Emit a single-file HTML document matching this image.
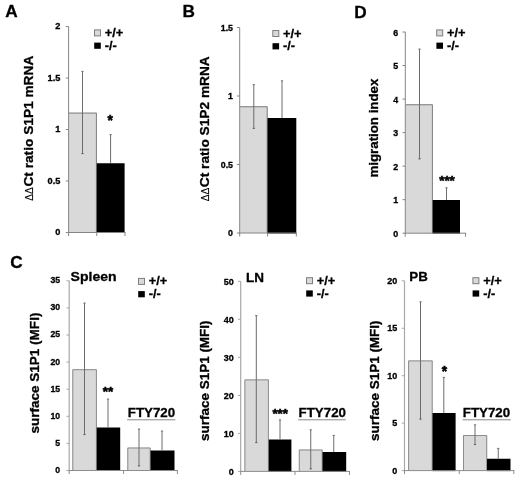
<!DOCTYPE html>
<html lang="en">
<head>
<meta charset="utf-8">
<title>Figure</title>
<style>
html,body{margin:0;padding:0;background:#fff;}
body{width:520px;height:480px;overflow:hidden;}
svg{display:block;}
svg text{font-family:"Liberation Sans", Arial, sans-serif;font-weight:bold;fill:#000;stroke:#000;stroke-width:0.3px;}
svg text.star{stroke-width:0.55px;}
</style>
</head>
<body>
<svg width="520" height="480" viewBox="0 0 520 480">
<rect x="0" y="0" width="520" height="480" fill="#ffffff"/>
<g id="panel-A">
<rect x="69" y="112.6" width="27.9" height="119.9" fill="#d9d9d9"/>
<path d="M69 113.1 H96.4 V232.5" fill="none" stroke="#7e7e7e" stroke-width="1"/>
<rect x="96.75" y="163.25" width="27.85" height="69.75" fill="#000"/>
<line x1="68.6" y1="26.5" x2="68.6" y2="233" stroke="#858585" stroke-width="1"/>
<line x1="65.8" y1="232.5" x2="68.6" y2="232.5" stroke="#858585" stroke-width="1"/>
<text x="60.3" y="235.3" font-size="9.2" text-anchor="end">0</text>
<line x1="65.8" y1="181" x2="68.6" y2="181" stroke="#858585" stroke-width="1"/>
<text x="60.3" y="183.8" font-size="9.2" text-anchor="end">0.5</text>
<line x1="65.8" y1="129.5" x2="68.6" y2="129.5" stroke="#858585" stroke-width="1"/>
<text x="60.3" y="132.3" font-size="9.2" text-anchor="end">1</text>
<line x1="65.8" y1="78" x2="68.6" y2="78" stroke="#858585" stroke-width="1"/>
<text x="60.3" y="80.8" font-size="9.2" text-anchor="end">1.5</text>
<line x1="65.8" y1="26.5" x2="68.6" y2="26.5" stroke="#858585" stroke-width="1"/>
<text x="60.3" y="29.3" font-size="9.2" text-anchor="end">2</text>
<line x1="68.1" y1="232.5" x2="125.5" y2="232.5" stroke="#858585" stroke-width="1"/>
<line x1="68.6" y1="232.5" x2="68.6" y2="236" stroke="#858585" stroke-width="1"/>
<line x1="96.75" y1="232.5" x2="96.75" y2="236" stroke="#858585" stroke-width="1"/>
<line x1="125" y1="232.5" x2="125" y2="236" stroke="#858585" stroke-width="1"/>
<line x1="82.5" y1="71" x2="82.5" y2="154" stroke="#6c6c6c" stroke-width="1"/>
<line x1="81.4" y1="71.4" x2="83.6" y2="71.4" stroke="#707070" stroke-width="1"/>
<line x1="81.4" y1="153.6" x2="83.6" y2="153.6" stroke="#606060" stroke-width="1"/>
<line x1="110.6" y1="134.25" x2="110.6" y2="163.25" stroke="#6c6c6c" stroke-width="1"/>
<line x1="109.5" y1="134.65" x2="111.7" y2="134.65" stroke="#707070" stroke-width="1"/>
<rect x="94.5" y="29.9" width="6" height="6" fill="#d9d9d9" stroke="#7e7e7e"/>
<text x="104.8" y="36.9" font-size="12.6" text-anchor="start" textLength="18.5" lengthAdjust="spacingAndGlyphs">+/+</text>
<rect x="94.2" y="42.6" width="6.6" height="6.2" fill="#000"/>
<text x="104.8" y="49.7" font-size="12.6" text-anchor="start" textLength="12" lengthAdjust="spacingAndGlyphs">-/-</text>
<text transform="translate(33.3,200.7) rotate(-90)" font-size="11" style="font-weight:normal;stroke-width:0.15px" textLength="13.6" lengthAdjust="spacingAndGlyphs">ΔΔ</text>
<text transform="translate(33.3,186.6) rotate(-90)" font-size="13.3" textLength="130.9" lengthAdjust="spacingAndGlyphs">Ct ratio S1P1 mRNA</text>
<text x="110.3" y="124.6" font-size="13.8" text-anchor="middle" class="star">*</text>
</g>
<g id="panel-B">
<rect x="240" y="106.25" width="27.7" height="126.75" fill="#d9d9d9"/>
<path d="M240 106.75 H267.2 V233" fill="none" stroke="#7e7e7e" stroke-width="1"/>
<rect x="267.5" y="118" width="28.8" height="115.5" fill="#000"/>
<line x1="239.7" y1="27.5" x2="239.7" y2="233.5" stroke="#858585" stroke-width="1"/>
<line x1="236.9" y1="233" x2="239.7" y2="233" stroke="#858585" stroke-width="1"/>
<text x="233" y="236.1" font-size="8.8" text-anchor="end">0</text>
<line x1="236.9" y1="164.5" x2="239.7" y2="164.5" stroke="#858585" stroke-width="1"/>
<text x="233" y="167.6" font-size="8.8" text-anchor="end">0.5</text>
<line x1="236.9" y1="96" x2="239.7" y2="96" stroke="#858585" stroke-width="1"/>
<text x="233" y="99.1" font-size="8.8" text-anchor="end">1</text>
<line x1="236.9" y1="27.5" x2="239.7" y2="27.5" stroke="#858585" stroke-width="1"/>
<text x="233" y="30.6" font-size="8.8" text-anchor="end">1.5</text>
<line x1="239.2" y1="233" x2="296.8" y2="233" stroke="#858585" stroke-width="1"/>
<line x1="239.7" y1="233" x2="239.7" y2="236.5" stroke="#858585" stroke-width="1"/>
<line x1="267.6" y1="233" x2="267.6" y2="236.5" stroke="#858585" stroke-width="1"/>
<line x1="296.3" y1="233" x2="296.3" y2="236.5" stroke="#858585" stroke-width="1"/>
<line x1="253.8" y1="84.25" x2="253.8" y2="128.75" stroke="#6c6c6c" stroke-width="1"/>
<line x1="252.7" y1="84.65" x2="254.9" y2="84.65" stroke="#707070" stroke-width="1"/>
<line x1="252.7" y1="128.35" x2="254.9" y2="128.35" stroke="#606060" stroke-width="1"/>
<line x1="282" y1="80.5" x2="282" y2="118" stroke="#6c6c6c" stroke-width="1"/>
<line x1="280.9" y1="80.9" x2="283.1" y2="80.9" stroke="#707070" stroke-width="1"/>
<rect x="272.8" y="30.5" width="6" height="6" fill="#d9d9d9" stroke="#7e7e7e"/>
<text x="283.1" y="37.5" font-size="12.6" text-anchor="start" textLength="18.5" lengthAdjust="spacingAndGlyphs">+/+</text>
<rect x="272.5" y="43.2" width="6.6" height="6.2" fill="#000"/>
<text x="283.1" y="50.3" font-size="12.6" text-anchor="start" textLength="12" lengthAdjust="spacingAndGlyphs">-/-</text>
<text transform="translate(208.8,201.25) rotate(-90)" font-size="11" style="font-weight:normal;stroke-width:0.15px" textLength="13.6" lengthAdjust="spacingAndGlyphs">ΔΔ</text>
<text transform="translate(208.8,187.15) rotate(-90)" font-size="13.3" textLength="130.9" lengthAdjust="spacingAndGlyphs">Ct ratio S1P2 mRNA</text>
</g>
<g id="panel-D">
<rect x="405.6" y="104.25" width="27.3" height="128.95" fill="#d9d9d9"/>
<path d="M405.6 104.75 H432.4 V233.2" fill="none" stroke="#7e7e7e" stroke-width="1"/>
<rect x="432.7" y="200" width="27.3" height="33.7" fill="#000"/>
<line x1="405.3" y1="32" x2="405.3" y2="233.7" stroke="#858585" stroke-width="1"/>
<line x1="402.5" y1="233.2" x2="405.3" y2="233.2" stroke="#858585" stroke-width="1"/>
<text x="398.1" y="236.7" font-size="8.9" text-anchor="end">0</text>
<line x1="402.5" y1="199.67" x2="405.3" y2="199.67" stroke="#858585" stroke-width="1"/>
<text x="398.1" y="203.17" font-size="8.9" text-anchor="end">1</text>
<line x1="402.5" y1="166.13" x2="405.3" y2="166.13" stroke="#858585" stroke-width="1"/>
<text x="398.1" y="169.63" font-size="8.9" text-anchor="end">2</text>
<line x1="402.5" y1="132.6" x2="405.3" y2="132.6" stroke="#858585" stroke-width="1"/>
<text x="398.1" y="136.1" font-size="8.9" text-anchor="end">3</text>
<line x1="402.5" y1="99.07" x2="405.3" y2="99.07" stroke="#858585" stroke-width="1"/>
<text x="398.1" y="102.57" font-size="8.9" text-anchor="end">4</text>
<line x1="402.5" y1="65.53" x2="405.3" y2="65.53" stroke="#858585" stroke-width="1"/>
<text x="398.1" y="69.03" font-size="8.9" text-anchor="end">5</text>
<line x1="402.5" y1="32" x2="405.3" y2="32" stroke="#858585" stroke-width="1"/>
<text x="398.1" y="35.5" font-size="8.9" text-anchor="end">6</text>
<line x1="404.8" y1="233.2" x2="466.1" y2="233.2" stroke="#858585" stroke-width="1"/>
<line x1="405.2" y1="233.2" x2="405.2" y2="236.7" stroke="#858585" stroke-width="1"/>
<line x1="465.6" y1="233.2" x2="465.6" y2="236.7" stroke="#858585" stroke-width="1"/>
<line x1="419.5" y1="48.75" x2="419.5" y2="159.25" stroke="#6c6c6c" stroke-width="1"/>
<line x1="418.4" y1="49.15" x2="420.6" y2="49.15" stroke="#707070" stroke-width="1"/>
<line x1="418.4" y1="158.85" x2="420.6" y2="158.85" stroke="#606060" stroke-width="1"/>
<line x1="446.5" y1="187.5" x2="446.5" y2="200" stroke="#6c6c6c" stroke-width="1"/>
<line x1="445.4" y1="187.9" x2="447.6" y2="187.9" stroke="#707070" stroke-width="1"/>
<rect x="436.7" y="29.9" width="6" height="6" fill="#d9d9d9" stroke="#7e7e7e"/>
<text x="447" y="36.9" font-size="12.6" text-anchor="start" textLength="18.5" lengthAdjust="spacingAndGlyphs">+/+</text>
<rect x="436.4" y="42.6" width="6.6" height="6.2" fill="#000"/>
<text x="447" y="49.7" font-size="12.6" text-anchor="start" textLength="12" lengthAdjust="spacingAndGlyphs">-/-</text>
<text transform="translate(378.1,128.1) rotate(-90)" font-size="13.3" text-anchor="middle" textLength="98.8" lengthAdjust="spacingAndGlyphs">migration index</text>
<text x="447" y="184.6" font-size="13.4" text-anchor="middle" class="star">***</text>
</g>
<g id="panel-C1">
<rect x="72.3" y="369.2" width="24.6" height="101.3" fill="#d9d9d9"/>
<path d="M72.8 470.5 V369.7 H96.4 V470.5" fill="none" stroke="#8c8c8c" stroke-width="1"/>
<rect x="96.75" y="427.5" width="23.45" height="43.5" fill="#000"/>
<rect x="127.3" y="447.5" width="23.4" height="23" fill="#d9d9d9"/>
<path d="M127.8 470.5 V448 H150.2 V470.5" fill="none" stroke="#8c8c8c" stroke-width="1"/>
<rect x="150.5" y="450.5" width="24" height="20.5" fill="#000"/>
<line x1="69.2" y1="280.8" x2="69.2" y2="471" stroke="#a8a8a8" stroke-width="1.2"/>
<line x1="66.4" y1="470.5" x2="69.2" y2="470.5" stroke="#a8a8a8" stroke-width="1"/>
<text x="60.1" y="472.9" font-size="8.7" text-anchor="end">0</text>
<line x1="66.4" y1="443.4" x2="69.2" y2="443.4" stroke="#a8a8a8" stroke-width="1"/>
<text x="60.1" y="445.8" font-size="8.7" text-anchor="end">5</text>
<line x1="66.4" y1="416.3" x2="69.2" y2="416.3" stroke="#a8a8a8" stroke-width="1"/>
<text x="60.1" y="418.7" font-size="8.7" text-anchor="end">10</text>
<line x1="66.4" y1="389.2" x2="69.2" y2="389.2" stroke="#a8a8a8" stroke-width="1"/>
<text x="60.1" y="391.6" font-size="8.7" text-anchor="end">15</text>
<line x1="66.4" y1="362.1" x2="69.2" y2="362.1" stroke="#a8a8a8" stroke-width="1"/>
<text x="60.1" y="364.5" font-size="8.7" text-anchor="end">20</text>
<line x1="66.4" y1="335" x2="69.2" y2="335" stroke="#a8a8a8" stroke-width="1"/>
<text x="60.1" y="337.4" font-size="8.7" text-anchor="end">25</text>
<line x1="66.4" y1="307.9" x2="69.2" y2="307.9" stroke="#a8a8a8" stroke-width="1"/>
<text x="60.1" y="310.3" font-size="8.7" text-anchor="end">30</text>
<line x1="66.4" y1="280.8" x2="69.2" y2="280.8" stroke="#a8a8a8" stroke-width="1"/>
<text x="60.1" y="283.2" font-size="8.7" text-anchor="end">35</text>
<line x1="68.7" y1="470.5" x2="177.9" y2="470.5" stroke="#8c8c8c" stroke-width="1"/>
<line x1="69.2" y1="470.5" x2="69.2" y2="474" stroke="#8c8c8c" stroke-width="1"/>
<line x1="123.6" y1="470.5" x2="123.6" y2="474" stroke="#8c8c8c" stroke-width="1"/>
<line x1="177.4" y1="470.5" x2="177.4" y2="474" stroke="#8c8c8c" stroke-width="1"/>
<line x1="84.5" y1="302.75" x2="84.5" y2="435" stroke="#6c6c6c" stroke-width="1"/>
<line x1="83.4" y1="303.15" x2="85.6" y2="303.15" stroke="#707070" stroke-width="1"/>
<line x1="83.4" y1="434.6" x2="85.6" y2="434.6" stroke="#606060" stroke-width="1"/>
<line x1="108" y1="398.75" x2="108" y2="427.5" stroke="#6c6c6c" stroke-width="1"/>
<line x1="106.9" y1="399.15" x2="109.1" y2="399.15" stroke="#707070" stroke-width="1"/>
<line x1="139" y1="428.75" x2="139" y2="466.25" stroke="#6c6c6c" stroke-width="1"/>
<line x1="137.9" y1="429.15" x2="140.1" y2="429.15" stroke="#707070" stroke-width="1"/>
<line x1="137.9" y1="465.85" x2="140.1" y2="465.85" stroke="#606060" stroke-width="1"/>
<line x1="162" y1="430.75" x2="162" y2="450.5" stroke="#6c6c6c" stroke-width="1"/>
<line x1="160.9" y1="431.15" x2="163.1" y2="431.15" stroke="#707070" stroke-width="1"/>
<rect x="138.5" y="278.4" width="6" height="6" fill="#d9d9d9" stroke="#7e7e7e"/>
<text x="148.8" y="285.4" font-size="12.6" text-anchor="start" textLength="18.5" lengthAdjust="spacingAndGlyphs">+/+</text>
<rect x="138.2" y="291.1" width="6.6" height="6.2" fill="#000"/>
<text x="148.8" y="298.2" font-size="12.6" text-anchor="start" textLength="12" lengthAdjust="spacingAndGlyphs">-/-</text>
<text transform="translate(38.6,373.1) rotate(-90)" font-size="13.3" text-anchor="middle" textLength="121" lengthAdjust="spacingAndGlyphs">surface S1P1 (MFI)</text>
<text x="108" y="395.8" font-size="13.4" text-anchor="middle" class="star">**</text>
<text x="70.6" y="281.3" font-size="13.3" text-anchor="start" textLength="46" lengthAdjust="spacingAndGlyphs">Spleen</text>
<text x="127.8" y="417" font-size="12.8" text-anchor="start" textLength="47.4" lengthAdjust="spacingAndGlyphs">FTY720</text>
<line x1="127.2" y1="419.8" x2="175.4" y2="419.8" stroke="#7a7a7a" stroke-width="0.9"/>
</g>
<g id="panel-C2">
<rect x="244.4" y="379.4" width="24.5" height="92" fill="#d9d9d9"/>
<path d="M244.9 471.4 V379.9 H268.4 V471.4" fill="none" stroke="#8c8c8c" stroke-width="1"/>
<rect x="268.75" y="439.5" width="22.65" height="32.4" fill="#000"/>
<rect x="298.8" y="449.5" width="23.9" height="21.9" fill="#d9d9d9"/>
<path d="M299.3 471.4 V450 H322.2 V471.4" fill="none" stroke="#8c8c8c" stroke-width="1"/>
<rect x="322.5" y="452" width="23.7" height="19.9" fill="#000"/>
<line x1="240.7" y1="281.3" x2="240.7" y2="471.9" stroke="#a8a8a8" stroke-width="1.2"/>
<line x1="237.9" y1="471.4" x2="240.7" y2="471.4" stroke="#a8a8a8" stroke-width="1"/>
<text x="233.7" y="475.1" font-size="9.0" text-anchor="end">0</text>
<line x1="237.9" y1="433.38" x2="240.7" y2="433.38" stroke="#a8a8a8" stroke-width="1"/>
<text x="233.7" y="437.08" font-size="9.0" text-anchor="end">10</text>
<line x1="237.9" y1="395.36" x2="240.7" y2="395.36" stroke="#a8a8a8" stroke-width="1"/>
<text x="233.7" y="399.06" font-size="9.0" text-anchor="end">20</text>
<line x1="237.9" y1="357.34" x2="240.7" y2="357.34" stroke="#a8a8a8" stroke-width="1"/>
<text x="233.7" y="361.04" font-size="9.0" text-anchor="end">30</text>
<line x1="237.9" y1="319.32" x2="240.7" y2="319.32" stroke="#a8a8a8" stroke-width="1"/>
<text x="233.7" y="323.02" font-size="9.0" text-anchor="end">40</text>
<line x1="237.9" y1="281.3" x2="240.7" y2="281.3" stroke="#a8a8a8" stroke-width="1"/>
<text x="233.7" y="285" font-size="9.0" text-anchor="end">50</text>
<line x1="240.2" y1="471.4" x2="350" y2="471.4" stroke="#8c8c8c" stroke-width="1"/>
<line x1="240.7" y1="471.4" x2="240.7" y2="474.9" stroke="#8c8c8c" stroke-width="1"/>
<line x1="295" y1="471.4" x2="295" y2="474.9" stroke="#8c8c8c" stroke-width="1"/>
<line x1="349.5" y1="471.4" x2="349.5" y2="474.9" stroke="#8c8c8c" stroke-width="1"/>
<line x1="256.3" y1="315.25" x2="256.3" y2="443" stroke="#6c6c6c" stroke-width="1"/>
<line x1="255.2" y1="315.65" x2="257.4" y2="315.65" stroke="#707070" stroke-width="1"/>
<line x1="255.2" y1="442.6" x2="257.4" y2="442.6" stroke="#606060" stroke-width="1"/>
<line x1="280" y1="419.5" x2="280" y2="439.5" stroke="#6c6c6c" stroke-width="1"/>
<line x1="278.9" y1="419.9" x2="281.1" y2="419.9" stroke="#707070" stroke-width="1"/>
<line x1="310.75" y1="429.5" x2="310.75" y2="469.25" stroke="#6c6c6c" stroke-width="1"/>
<line x1="309.65" y1="429.9" x2="311.85" y2="429.9" stroke="#707070" stroke-width="1"/>
<line x1="309.65" y1="468.85" x2="311.85" y2="468.85" stroke="#606060" stroke-width="1"/>
<line x1="333.75" y1="435" x2="333.75" y2="452" stroke="#6c6c6c" stroke-width="1"/>
<line x1="332.65" y1="435.4" x2="334.85" y2="435.4" stroke="#707070" stroke-width="1"/>
<rect x="306.5" y="277.7" width="6" height="6" fill="#d9d9d9" stroke="#7e7e7e"/>
<text x="316.8" y="284.7" font-size="12.6" text-anchor="start" textLength="18.5" lengthAdjust="spacingAndGlyphs">+/+</text>
<rect x="306.2" y="290.4" width="6.6" height="6.2" fill="#000"/>
<text x="316.8" y="297.5" font-size="12.6" text-anchor="start" textLength="12" lengthAdjust="spacingAndGlyphs">-/-</text>
<text transform="translate(209,380.7) rotate(-90)" font-size="13.3" text-anchor="middle" textLength="120.5" lengthAdjust="spacingAndGlyphs">surface S1P1 (MFI)</text>
<text x="280.2" y="417.8" font-size="13.4" text-anchor="middle" class="star">***</text>
<text x="246" y="282" font-size="13.3" text-anchor="start" textLength="18" lengthAdjust="spacingAndGlyphs">LN</text>
<text x="298.6" y="417" font-size="12.8" text-anchor="start" textLength="47.4" lengthAdjust="spacingAndGlyphs">FTY720</text>
<line x1="298.2" y1="419.8" x2="345.8" y2="419.8" stroke="#7a7a7a" stroke-width="0.9"/>
</g>
<g id="panel-C3">
<rect x="408.1" y="360.4" width="24.6" height="110.2" fill="#d9d9d9"/>
<path d="M408.6 470.6 V360.9 H432.2 V470.6" fill="none" stroke="#8c8c8c" stroke-width="1"/>
<rect x="432.5" y="413" width="23.1" height="58.1" fill="#000"/>
<rect x="463" y="435" width="24.2" height="35.6" fill="#d9d9d9"/>
<path d="M463.5 470.6 V435.5 H486.7 V470.6" fill="none" stroke="#8c8c8c" stroke-width="1"/>
<rect x="487" y="458.75" width="23.5" height="12.35" fill="#000"/>
<line x1="404.5" y1="280.8" x2="404.5" y2="471.1" stroke="#a8a8a8" stroke-width="1.2"/>
<line x1="401.7" y1="470.6" x2="404.5" y2="470.6" stroke="#a8a8a8" stroke-width="1"/>
<text x="397.2" y="473.6" font-size="9.0" text-anchor="end">0</text>
<line x1="401.7" y1="423.15" x2="404.5" y2="423.15" stroke="#a8a8a8" stroke-width="1"/>
<text x="397.2" y="426.15" font-size="9.0" text-anchor="end">5</text>
<line x1="401.7" y1="375.7" x2="404.5" y2="375.7" stroke="#a8a8a8" stroke-width="1"/>
<text x="397.2" y="378.7" font-size="9.0" text-anchor="end">10</text>
<line x1="401.7" y1="328.25" x2="404.5" y2="328.25" stroke="#a8a8a8" stroke-width="1"/>
<text x="397.2" y="331.25" font-size="9.0" text-anchor="end">15</text>
<line x1="401.7" y1="280.8" x2="404.5" y2="280.8" stroke="#a8a8a8" stroke-width="1"/>
<text x="397.2" y="283.8" font-size="9.0" text-anchor="end">20</text>
<line x1="404" y1="470.6" x2="514.3" y2="470.6" stroke="#8c8c8c" stroke-width="1"/>
<line x1="404.5" y1="470.6" x2="404.5" y2="474.1" stroke="#8c8c8c" stroke-width="1"/>
<line x1="459.25" y1="470.6" x2="459.25" y2="474.1" stroke="#8c8c8c" stroke-width="1"/>
<line x1="513.8" y1="470.6" x2="513.8" y2="474.1" stroke="#8c8c8c" stroke-width="1"/>
<line x1="420.5" y1="301.5" x2="420.5" y2="419.5" stroke="#6c6c6c" stroke-width="1"/>
<line x1="419.4" y1="301.9" x2="421.6" y2="301.9" stroke="#707070" stroke-width="1"/>
<line x1="419.4" y1="419.1" x2="421.6" y2="419.1" stroke="#606060" stroke-width="1"/>
<line x1="443.8" y1="377" x2="443.8" y2="413" stroke="#6c6c6c" stroke-width="1"/>
<line x1="442.7" y1="377.4" x2="444.9" y2="377.4" stroke="#707070" stroke-width="1"/>
<line x1="475" y1="424.5" x2="475" y2="445" stroke="#6c6c6c" stroke-width="1"/>
<line x1="473.9" y1="424.9" x2="476.1" y2="424.9" stroke="#707070" stroke-width="1"/>
<line x1="473.9" y1="444.6" x2="476.1" y2="444.6" stroke="#606060" stroke-width="1"/>
<line x1="498.25" y1="448" x2="498.25" y2="458.75" stroke="#6c6c6c" stroke-width="1"/>
<line x1="497.15" y1="448.4" x2="499.35" y2="448.4" stroke="#707070" stroke-width="1"/>
<rect x="472.9" y="277.7" width="6" height="6" fill="#d9d9d9" stroke="#7e7e7e"/>
<text x="483.2" y="284.7" font-size="12.6" text-anchor="start" textLength="18.5" lengthAdjust="spacingAndGlyphs">+/+</text>
<rect x="472.6" y="290.4" width="6.6" height="6.2" fill="#000"/>
<text x="483.2" y="297.5" font-size="12.6" text-anchor="start" textLength="12" lengthAdjust="spacingAndGlyphs">-/-</text>
<text transform="translate(379.3,380.7) rotate(-90)" font-size="13.3" text-anchor="middle" textLength="120.5" lengthAdjust="spacingAndGlyphs">surface S1P1 (MFI)</text>
<text x="444.4" y="376" font-size="13.8" text-anchor="middle" class="star">*</text>
<text x="409.3" y="281.3" font-size="13.3" text-anchor="start" textLength="18.5" lengthAdjust="spacingAndGlyphs">PB</text>
<text x="462.8" y="417" font-size="12.8" text-anchor="start" textLength="47.4" lengthAdjust="spacingAndGlyphs">FTY720</text>
<line x1="462.6" y1="419.8" x2="510.8" y2="419.8" stroke="#7a7a7a" stroke-width="0.9"/>
</g>
<text x="5.3" y="17" font-size="17.2" text-anchor="start">A</text>
<text x="182.6" y="17" font-size="17.2" text-anchor="start">B</text>
<text x="354.2" y="18" font-size="17.2" text-anchor="start">D</text>
<text x="10.2" y="268" font-size="17.2" text-anchor="start">C</text>
</svg>
</body>
</html>
